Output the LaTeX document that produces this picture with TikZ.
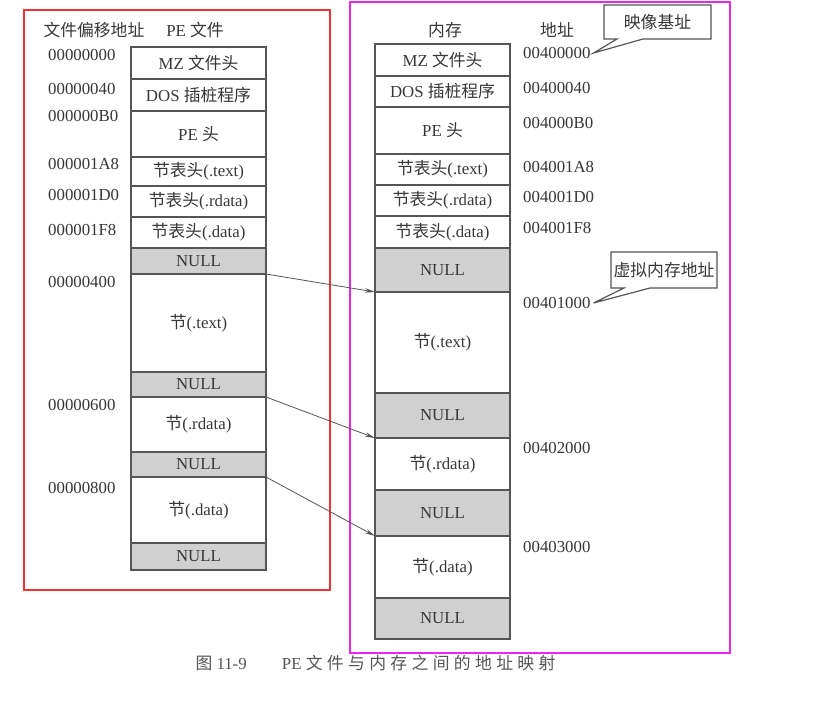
\documentclass[tikz,border=0pt]{standalone}
\usepackage{fontspec}
\setmainfont{Liberation Serif}
\newfontfamily\cjk{Noto Sans CJK SC}
\newfontfamily\cjkcap[LetterSpace=26]{Noto Sans CJK SC}
\usetikzlibrary{shapes.callouts,arrows.meta}
\definecolor{linegray}{RGB}{85,85,85}
\definecolor{txtgray}{RGB}{55,55,55}
\definecolor{nullgray}{RGB}{208,208,208}
\definecolor{framered}{RGB}{238,52,56}
\definecolor{framemag}{RGB}{232,40,232}
\newcommand{\zh}[1]{{\cjk #1}}
\tikzset{
  txt/.style={text=txtgray, font=\fontsize{16.8}{19}\selectfont},
  cell/.style={txt, draw=linegray, line width=1.2pt, minimum width=135pt,
    inner sep=0pt, outer sep=0pt, anchor=north},
  nullcell/.style={cell, fill=nullgray},
  addr/.style={txt, anchor=west, inner sep=3pt},
  arr/.style={draw=linegray, line width=0.8pt, -{Stealth[length=10pt,width=4.5pt]}},
  note/.style={txt, rectangle callout, draw=linegray, line width=1.2pt, fill=white,
    inner sep=2pt, callout pointer width=26pt},
}
\begin{document}
\begin{tikzpicture}[x=1pt,y=-1pt]
\useasboundingbox[fill=white] (0,0) rectangle (813,722);

% frames
\draw[framered, line width=2.6pt] (24,10) rectangle (330,590);
\draw[framemag, line width=2.6pt] (350,2) rectangle (730,653);

% headers
\node[txt, anchor=west] (hoff) at (40,30) {\zh{文件偏移地址}};
\node[txt] (hpe) at (195,30) {PE \zh{文件}};
\node[txt] (hmem) at (445,30) {\zh{内存}};
\node[txt] (haddr) at (557,30) {\zh{地址}};

% PE file
\node[cell, minimum height=32pt] (fmz) at (198.5,47) {MZ \zh{文件头}};
\node[cell, minimum height=32pt] (fdos) at (198.5,79) {DOS \zh{插桩程序}};
\node[cell, minimum height=46pt] (fpe) at (198.5,111) {PE \zh{头}};
\node[cell, minimum height=29pt] (fsht) at (198.5,157) {\zh{节表头}(.text)};
\node[cell, minimum height=31pt] (fshr) at (198.5,186) {\zh{节表头}(.rdata)};
\node[cell, minimum height=31pt] (fshd) at (198.5,217) {\zh{节表头}(.data)};
\node[nullcell, minimum height=26pt] (fnull0) at (198.5,248) {NULL};
\node[cell, minimum height=98pt] (ftext) at (198.5,274) {\zh{节}(.text)};
\node[nullcell, minimum height=25pt] (fnull1) at (198.5,372) {NULL};
\node[cell, minimum height=55pt] (frdata) at (198.5,397) {\zh{节}(.rdata)};
\node[nullcell, minimum height=25pt] (fnull2) at (198.5,452) {NULL};
\node[cell, minimum height=66pt] (fdata) at (198.5,477) {\zh{节}(.data)};
\node[nullcell, minimum height=27pt] (fnull3) at (198.5,543) {NULL};

% file offsets
\node[addr] (la0) at (45,55) {00000000};
\node[addr] (la1) at (45,89) {00000040};
\node[addr] (la2) at (45,116) {000000B0};
\node[addr] (la3) at (45,164) {000001A8};
\node[addr] (la4) at (45,195) {000001D0};
\node[addr] (la5) at (45,230) {000001F8};
\node[addr] (la6) at (45,282) {00000400};
\node[addr] (la7) at (45,405) {00000600};
\node[addr] (la8) at (45,488) {00000800};

% memory
\node[cell, minimum height=32pt] (mmz) at (442.5,44) {MZ \zh{文件头}};
\node[cell, minimum height=31pt] (mdos) at (442.5,76) {DOS \zh{插桩程序}};
\node[cell, minimum height=47pt] (mpe) at (442.5,107) {PE \zh{头}};
\node[cell, minimum height=31pt] (msht) at (442.5,154) {\zh{节表头}(.text)};
\node[cell, minimum height=31pt] (mshr) at (442.5,185) {\zh{节表头}(.rdata)};
\node[cell, minimum height=32pt] (mshd) at (442.5,216) {\zh{节表头}(.data)};
\node[nullcell, minimum height=44pt] (mnull0) at (442.5,248) {NULL};
\node[cell, minimum height=101pt] (mtext) at (442.5,292) {\zh{节}(.text)};
\node[nullcell, minimum height=45pt] (mnull1) at (442.5,393) {NULL};
\node[cell, minimum height=52pt] (mrdata) at (442.5,438) {\zh{节}(.rdata)};
\node[nullcell, minimum height=46pt] (mnull2) at (442.5,490) {NULL};
\node[cell, minimum height=62pt] (mdata) at (442.5,536) {\zh{节}(.data)};
\node[nullcell, minimum height=41pt] (mnull3) at (442.5,598) {NULL};

% virtual addresses
\node[addr] (ra0) at (520,53) {00400000};
\node[addr] (ra1) at (520,88) {00400040};
\node[addr] (ra2) at (520,123) {004000B0};
\node[addr] (ra3) at (520,167) {004001A8};
\node[addr] (ra4) at (520,197) {004001D0};
\node[addr] (ra5) at (520,228) {004001F8};
\node[addr] (ra6) at (520,303) {00401000};
\node[addr] (ra7) at (520,448) {00402000};
\node[addr] (ra8) at (520,547) {00403000};

% notes
\node[note, minimum width=107pt, minimum height=34pt,
  callout absolute pointer={(ra0.east)}] (nbase) at (657.5,22) {\zh{映像基址}};
\node[note, minimum width=106pt, minimum height=36pt,
  callout absolute pointer={(ra6.east)}] (nvirt) at (664,270) {\zh{虚拟内存地址}};

% mapping
\draw[arr] (fnull0.south east) -- (mtext.north west);
\draw[arr] (frdata.north east) -- (mrdata.north west);
\draw[arr] (fdata.north east) -- (mdata.north west);

% caption
\node[txt, anchor=west, text=linegray] (cap) at (192,663)
  {{\cjkcap 图} 11-9\hspace{2.1em}PE {\cjkcap 文件与内存之间的地址映射}};
\end{tikzpicture}
\end{document}
